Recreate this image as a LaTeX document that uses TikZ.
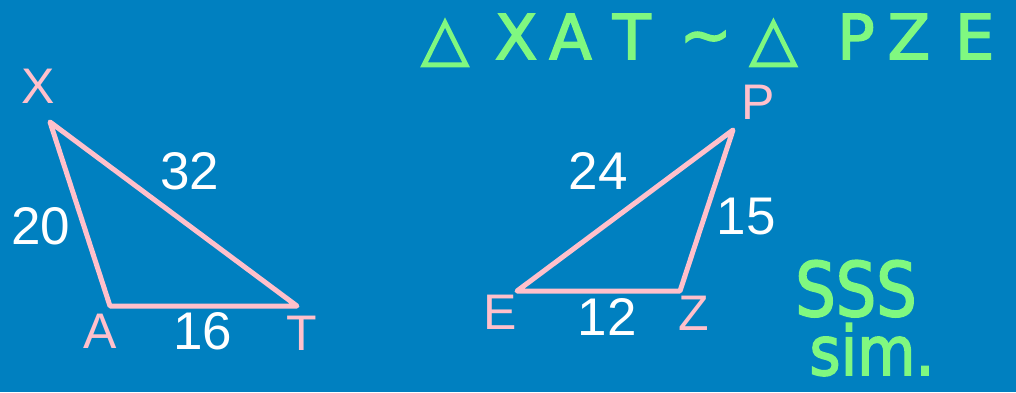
\documentclass[tikz,border=0pt]{standalone}
\usepackage{fontspec}
\usepackage{graphicx}
\setmainfont{Liberation Sans}
\newfontfamily\handfont[FakeBold=2.5]{DejaVu Sans}
\definecolor{bg}{HTML}{0080C0}
\definecolor{pinkline}{HTML}{FFC0CB}
\definecolor{hgreen}{HTML}{80F880}
\begin{document}
\begin{tikzpicture}[x=1pt,y=-1pt,
  vlabel/.style={text=pinkline,font=\fontsize{50}{50}\selectfont,inner sep=0pt},
  num/.style={text=white,font=\fontsize{53}{53}\selectfont,inner sep=0pt},
  tri/.style={draw=pinkline,line width=5pt,line join=round},
  hw/.style={text=hgreen,inner sep=0pt}]
\fill[bg] (0,0) rectangle (1016,392);
\useasboundingbox (0,0) rectangle (1016,392);
% left triangle
\coordinate (X) at (50,122);
\coordinate (A) at (110,306);
\coordinate (T) at (297,306);
\draw[tri] (X) -- (A) -- (T) -- cycle;
\node[vlabel] (lX) at (38,86) {X};
\node[vlabel] (lA) at (100,331) {A};
\node[vlabel] (lT) at (302,333) {T};
\node[num] (n32) at (190,171) {32};
\node[num] (n20) at (41,226) {20};
\node[num] (n16) at (203,331) {16};
% right triangle
\coordinate (P) at (733,130);
\coordinate (E) at (517,291);
\coordinate (Z) at (680,291);
\draw[tri] (P) -- (E) -- (Z) -- cycle;
\node[vlabel] (lP) at (758,102) {P};
\node[vlabel] (lE) at (500,312) {E};
\node[vlabel] (lZ) at (694,313) {Z};
\node[num] (n24) at (598,171) {24};
\node[num] (n15) at (746,217) {15};
\node[num] (n12) at (607,317) {12};
% handwritten notes
\node[hw,anchor=base west,font=\handfont\fontsize{62}{62}\selectfont] (sim) at (421,59) {△\hspace{26pt}X\hspace{12pt}A\hspace{21pt}T\hspace{29pt}\raisebox{3pt}{\char"007E}\hspace{18pt}△\hspace{40pt}P\hspace{13pt}Z\hspace{25pt}E};
\node[hw,anchor=base,font=\handfont\fontsize{75}{75}\selectfont] (sss) at (856,316) {\scalebox{0.85}[1]{SSS}};
\node[hw,anchor=base,font=\handfont\fontsize{68}{68}\selectfont] (simword) at (872,375) {\scalebox{0.88}[1]{sim.}};
\end{tikzpicture}
\end{document}
